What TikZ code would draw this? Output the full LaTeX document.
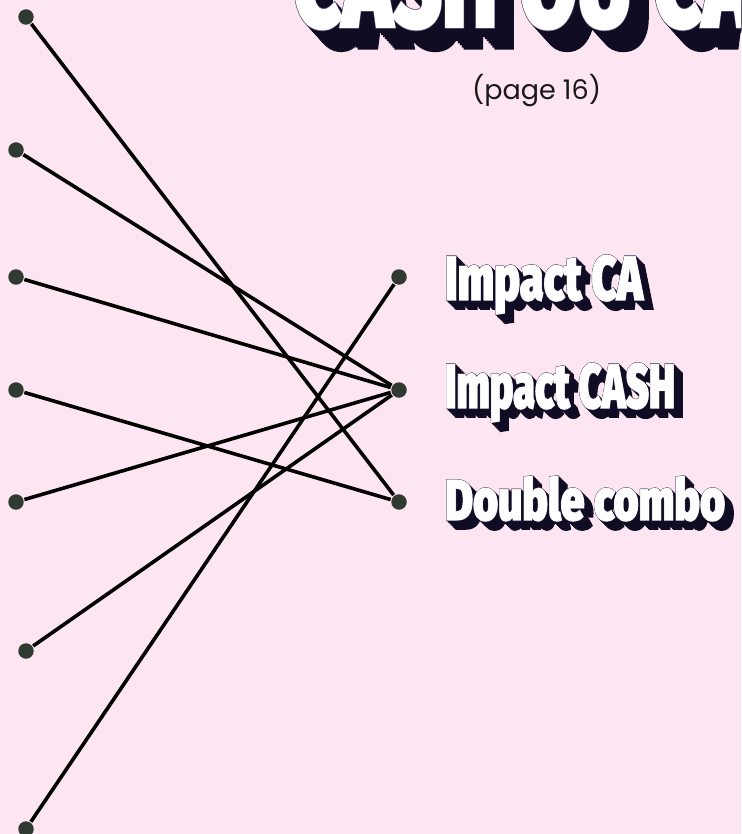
\documentclass[tikz,border=0pt]{standalone}
\usepackage{fontspec}
\usepackage{graphicx}
\newfontfamily\impW[FakeBold=1.4]{Fira Sans Black}
\newfontfamily\impE[FakeBold=2.6]{Fira Sans Black}
\newfontfamily\pagefont{Poppins}
\definecolor{bgpink}{HTML}{FDE6F1}
\definecolor{shade}{HTML}{0F0C24}
\definecolor{edgegrey}{HTML}{6E6484}
\definecolor{dotgreen}{HTML}{2F3A33}
\tikzset{
  x=1pt,y=-1pt,
  dot/.style={circle,fill=dotgreen,minimum size=15.5pt,inner sep=0pt,outer sep=1pt},
  link/.style={draw=black,line width=3.6pt},
  lab/.style={anchor=base west,inner sep=0pt,outer sep=0pt}
}
% name, x, baseline y, width, height, font size, shadow dx, shadow dy, text
\newcommand{\shadowtext}[9]{%
  \foreach \k in {0,0.1,...,1.001}{
    \node[lab,text=shade] (#1s\k) at ({#2+#7*\k},{#3+#8*\k})
      {\resizebox{#4pt}{#5pt}{\fontsize{#6}{#6}\impE #9}};
  }
  \node[lab,text=edgegrey] (#1e) at (#2,#3) {\resizebox{#4pt}{#5pt}{\fontsize{#6}{#6}\impE #9}};
  \node[lab,text=white] (#1) at (#2,#3) {\resizebox{#4pt}{#5pt}{\fontsize{#6}{#6}\impW #9}};
}
\begin{document}
\begin{tikzpicture}
\useasboundingbox (0,0) rectangle (741,834);
\fill[bgpink] (0,0) rectangle (741,834);
\begin{scope}
\clip (0,0) rectangle (741,834);
\shadowtext{title}{293}{27}{460}{90}{100}{19}{21}{CASH\hspace{26pt}OU\hspace{26pt}CA}
\node[anchor=base,inner sep=0pt,text=black!90] (page) at (536.5,100) {\fontsize{27}{27}\pagefont (page 16)};

\node[dot] (l1) at (26,17) {};
\node[dot] (l2) at (16,150) {};
\node[dot] (l3) at (16,277) {};
\node[dot] (l4) at (16,390) {};
\node[dot] (l5) at (16,502) {};
\node[dot] (l6) at (26,651) {};
\node[dot] (l7) at (26,829) {};
\node[dot] (r1) at (399,277) {};
\node[dot] (r2) at (399,390) {};
\node[dot] (r3) at (399,502) {};

\draw[link] (l1) -- (r3);
\draw[link] (l2) -- (r2);
\draw[link] (l3) -- (r2);
\draw[link] (l4) -- (r3);
\draw[link] (l5) -- (r2);
\draw[link] (l6) -- (r2);
\draw[link] (l7) -- (r1);

\shadowtext{ca}{445}{300}{198}{45}{56}{9}{9}{Impact CA}
\shadowtext{cash}{445}{408}{230}{45}{56}{9}{9}{Impact CASH}
\shadowtext{combo}{445}{520}{280}{44}{56}{9}{9}{Double combo}
\end{scope}
\end{tikzpicture}
\end{document}
